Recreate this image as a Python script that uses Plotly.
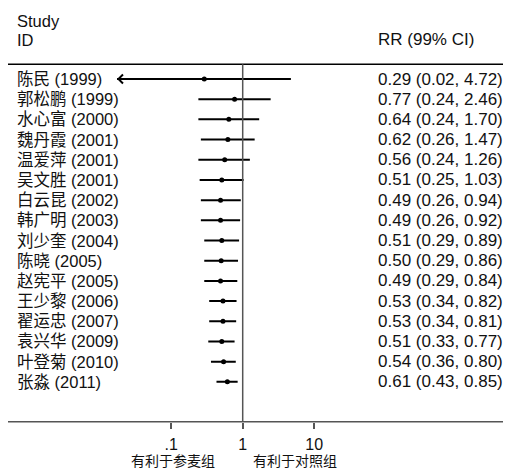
import numpy as np
import plotly.graph_objects as go

studies = ["陈民 (1999)", "郭松鹏 (1999)", "水心富 (2000)", "魏丹霞 (2001)", "温爱萍 (2001)",
           "吴文胜 (2001)", "白云昆 (2002)", "韩广明 (2003)", "刘少奎 (2004)", "陈晓 (2005)",
           "赵宪平 (2005)", "王少黎 (2006)", "翟运忠 (2007)", "袁兴华 (2009)", "叶登菊 (2010)",
           "张淼 (2011)"]
rr = [0.29, 0.77, 0.64, 0.62, 0.56, 0.51, 0.49, 0.49, 0.51, 0.50, 0.49, 0.53, 0.53, 0.51, 0.54, 0.61]
lo = [0.02, 0.24, 0.24, 0.26, 0.24, 0.25, 0.26, 0.26, 0.29, 0.29, 0.29, 0.34, 0.34, 0.33, 0.36, 0.43]
hi = [4.72, 2.46, 1.70, 1.47, 1.26, 1.03, 0.94, 0.92, 0.89, 0.86, 0.84, 0.82, 0.81, 0.77, 0.80, 0.85]
tick_vals = [0.1, 1, 10]
tick_text = [".1", "1", "10"]
favour_left = "有利于参麦组"
favour_right = "有利于对照组"

OFF = 8  # page body margin
W, H = 511 - OFF, 470 - OFF
FONT = "Liberation Sans, Arial, Noto Sans CJK SC, sans-serif"
LOG_HALF = 1.758  # half-width of the log axis range (decades)
min_tick = min(tick_vals)
n = len(studies)
rows = list(range(1, n + 1))

def px(xp):
    return (xp - OFF) / W

def py(yp):
    return 1 - (yp - OFF) / H

x_dom = [px(117), px(368.4)]
y_dom = [py(422), py(64.3)]

xs, ys = [], []
for i in range(n):
    l = lo[i] if lo[i] >= min_tick else 10 ** (-LOG_HALF)
    xs += [l, hi[i], None]
    ys += [rows[i], rows[i], None]

fig = go.Figure()
fig.add_trace(go.Scatter(x=xs, y=ys, mode="lines", line=dict(color="black", width=2),
                         hoverinfo="skip", showlegend=False))
fig.add_trace(go.Scatter(x=rr, y=rows, mode="markers", marker=dict(color="black", size=5),
                         showlegend=False))

annotations = []
for i in range(n):
    annotations.append(dict(x=px(15), y=rows[i], xref="paper", yref="y", text=studies[i],
                            showarrow=False, xanchor="left", yanchor="middle",
                            font=dict(size=16.5, color="#111", family=FONT)))
    annotations.append(dict(x=px(376), y=rows[i], xref="paper", yref="y",
                            text=f"{rr[i]:.2f} ({lo[i]:.2f}, {hi[i]:.2f})",
                            showarrow=False, xanchor="left", yanchor="middle",
                            font=dict(size=17, color="#111", family=FONT)))
    if lo[i] < min_tick:
        annotations.append(dict(x=-LOG_HALF, y=rows[i], xref="x", yref="y",
                                ax=np.log10(rr[i]), ay=rows[i], axref="x", ayref="y",
                                text="", showarrow=True, arrowhead=4, arrowwidth=1.6,
                                arrowsize=1.1, arrowcolor="black"))

annotations += [
    dict(x=px(15), y=py(21), xref="paper", yref="paper", text="Study", showarrow=False,
         xanchor="left", yanchor="middle", font=dict(size=16.5, color="#111", family=FONT)),
    dict(x=px(15), y=py(40), xref="paper", yref="paper", text="ID", showarrow=False,
         xanchor="left", yanchor="middle", font=dict(size=16.5, color="#111", family=FONT)),
    dict(x=px(376), y=py(40), xref="paper", yref="paper", text="RR (99% CI)", showarrow=False,
         xanchor="left", yanchor="middle", font=dict(size=17, color="#111", family=FONT)),
    dict(x=px(173), y=py(461), xref="paper", yref="paper", text=favour_left, showarrow=False,
         xanchor="center", yanchor="middle", font=dict(size=14, color="#111", family=FONT)),
    dict(x=px(295), y=py(461), xref="paper", yref="paper", text=favour_right, showarrow=False,
         xanchor="center", yanchor="middle", font=dict(size=14, color="#111", family=FONT)),
]

shapes = [
    dict(type="line", xref="paper", yref="paper", x0=px(4), x1=px(510), y0=py(64.3), y1=py(64.3),
         line=dict(color="black", width=1.5)),
    dict(type="line", xref="paper", yref="paper", x0=px(6), x1=px(510), y0=py(421.7), y1=py(421.7),
         line=dict(color="#555", width=1.5)),
    dict(type="line", xref="x", yref="paper", x0=1, x1=1, y0=py(421.7), y1=py(64.3),
         line=dict(color="#555", width=1.5)),
]

fig.update_layout(
    width=W, height=H, margin=dict(l=0, r=0, t=0, b=0),
    paper_bgcolor="white", plot_bgcolor="white",
    font=dict(family=FONT, color="#111"),
    xaxis=dict(type="log", domain=x_dom, range=[-LOG_HALF, LOG_HALF],
               tickvals=tick_vals, ticktext=tick_text, ticks="outside", ticklen=6,
               tickwidth=1.5, tickcolor="#555", showgrid=False, zeroline=False, showline=False,
               ticklabelstandoff=2,
               tickfont=dict(size=16, color="#111", family=FONT)),
    yaxis=dict(domain=y_dom, range=[17.99, 0.272], showticklabels=False, showgrid=False,
               zeroline=False, showline=False, ticks=""),
    annotations=annotations, shapes=shapes,
)

fig.write_html("out.html")
